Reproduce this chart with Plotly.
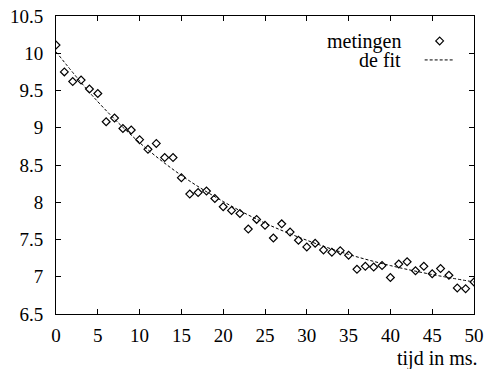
import plotly.graph_objects as go

# measurements (metingen)
t_meas = list(range(0, 51))
v_meas = [10.11, 9.75, 9.62, 9.64, 9.52, 9.46, 9.08, 9.13, 8.99, 8.97,
          8.84, 8.71, 8.79, 8.60, 8.60, 8.33, 8.11, 8.13, 8.15, 8.05,
          7.94, 7.89, 7.85, 7.64, 7.77, 7.69, 7.52, 7.71, 7.60, 7.49,
          7.40, 7.45, 7.36, 7.33, 7.35, 7.29, 7.10, 7.14, 7.13, 7.15,
          6.99, 7.17, 7.20, 7.08, 7.14, 7.04, 7.11, 7.02, 6.85, 6.84,
          6.93]

# fitted curve (de fit)
t_fit = [0, 5, 10, 15, 20, 25, 30, 35, 40, 45, 50]
v_fit = [10.02, 9.35, 8.80, 8.36, 8.01, 7.72, 7.49, 7.30, 7.15, 7.03, 6.93]

x_ticks = [0, 5, 10, 15, 20, 25, 30, 35, 40, 45, 50]
y_ticks = [6.5, 7, 7.5, 8, 8.5, 9, 9.5, 10, 10.5]
y_ticktext = ["6.5", "7", "7.5", "8", "8.5", "9", "9.5", "10", "10.5"]

FONT = "'Liberation Serif', 'Times New Roman', Times, serif"

fig = go.Figure()
fig.add_trace(go.Scatter(
    x=t_meas, y=v_meas, mode="markers", name=" ",
    marker=dict(symbol="diamond-open", size=6, color="black",
                line=dict(width=1.2, color="black")),
))
fig.add_trace(go.Scatter(
    x=t_fit, y=v_fit, mode="lines", name=" ", line_shape="spline",
    line=dict(color="black", width=1, dash="3px,2px"),
))

axis_common = dict(
    showline=True, linecolor="black", linewidth=1, mirror="allticks",
    ticks="inside", ticklen=5, tickcolor="black", tickwidth=1,
    showgrid=False, zeroline=False, automargin=False,
    tickfont=dict(family=FONT, size=19, color="black"),
)

fig.update_xaxes(range=[0, 50], tickvals=x_ticks,
                 ticktext=[str(v) for v in x_ticks],
                 ticklabelstandoff=4, **axis_common)
fig.update_yaxes(range=[6.5, 10.5], tickvals=y_ticks, ticktext=y_ticktext,
                 ticklabelstandoff=8, **axis_common)

fig.add_annotation(text="tijd in ms.", xref="paper", yref="paper",
                   x=1, y=0, xanchor="right", yanchor="middle",
                   xshift=6, yshift=-44, showarrow=False,
                   font=dict(family=FONT, size=20, color="black"))
fig.add_annotation(text="metingen", xref="paper", yref="paper",
                   x=0.83, y=1, xanchor="right", yanchor="middle",
                   yshift=-25, showarrow=False,
                   font=dict(family=FONT, size=20, color="black"))
fig.add_annotation(text="de fit", xref="paper", yref="paper",
                   x=0.83, y=1, xanchor="right", yanchor="middle",
                   yshift=-44, showarrow=False,
                   font=dict(family=FONT, size=20, color="black"))

fig.update_layout(
    template="none",
    width=486, height=369,
    margin=dict(l=56, r=12, t=16, b=55, pad=0),
    paper_bgcolor="white", plot_bgcolor="white",
    showlegend=True,
    legend=dict(x=0.87, y=0.965, xanchor="left", yanchor="top",
                bgcolor="rgba(0,0,0,0)", font=dict(family=FONT, size=12),
                tracegroupgap=0, itemwidth=30),
    font=dict(family=FONT, color="black"),
)

fig.write_html("out.html", config={"displayModeBar": False},
               post_script="document.body.style.margin='0';")
